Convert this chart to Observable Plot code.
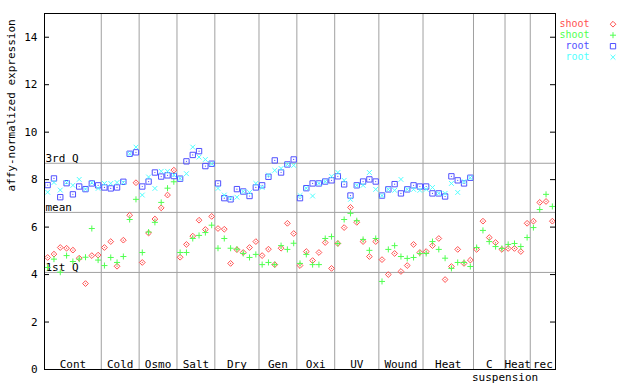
<!DOCTYPE html>
<html>
<head>
<meta charset="utf-8">
<script src="https://cdn.jsdelivr.net/npm/d3@7"></script>
<script src="https://cdn.jsdelivr.net/npm/@observablehq/plot@0.6"></script>
<style>
  html, body { margin: 0; padding: 0; background: #fff; }
  #chart { width: 640px; height: 384px; }
</style>
</head>
<body>
<div id="chart"></div>
<script>
// ---- data ----
const groups = ["Cont","Cold","Osmo","Salt","Dry","Gen","Oxi","UV","Wound","Heat","C","Heat","rec"];
const groupSizes = [9,6,6,6,7,6,6,7,7,8,5,4,4];
const subLabel = "suspension";
const yTicks = [0,2,4,6,8,10,12,14];
const refLines = [
  {name: "3rd Q", value: 8.69},
  {name: "mean", value: 6.62},
  {name: "1st Q", value: 4.09}
];
const seriesNames = ["shoot","shoot","root","root"];
const seriesColors = ["#ff5050","#50ff50","#5050ff","#50ffff"];

const shootA = [4.72,4.86,5.14,5.11,5.03,4.69,3.62,4.80,4.82,5.14,5.39,4.35,5.45,6.50,7.87,4.51,5.75,6.34,6.81,7.35,8.40,4.73,5.27,5.62,6.29,5.90,6.45,5.94,5.91,4.47,5.05,4.93,5.14,5.39,4.80,5.07,4.42,5.11,6.16,5.73,4.38,4.97,4.59,4.93,5.35,4.26,5.31,5.98,6.83,6.20,5.39,4.76,5.39,4.63,4.00,4.89,4.13,4.38,5.27,4.93,4.97,5.22,5.52,3.79,4.34,5.06,4.47,4.61,5.06,6.25,5.56,5.35,5.06,5.10,5.10,4.97,6.16,6.25,7.04,7.08,6.25];
const shootB = [4.30,4.65,4.10,4.80,4.55,4.65,4.73,5.94,4.61,4.38,4.72,4.51,4.76,6.32,7.17,4.93,5.79,6.20,7.04,7.64,7.91,4.93,4.93,5.52,5.65,5.77,6.08,5.11,5.52,5.11,5.07,4.89,4.72,4.85,4.42,4.51,4.42,5.22,5.06,5.32,4.47,4.85,4.42,4.42,5.52,5.60,5.31,6.32,6.58,6.27,5.48,5.02,5.52,3.71,5.06,5.22,4.76,4.68,4.72,4.89,4.89,5.39,5.06,4.69,4.26,4.51,4.51,4.34,5.14,5.86,5.39,5.18,5.10,5.27,5.31,5.18,5.56,5.98,6.74,7.38,6.87];
const rootA = [7.77,8.05,7.26,7.85,7.38,7.71,7.60,7.84,7.76,7.67,7.63,7.67,7.91,9.09,9.15,7.71,7.92,8.30,8.13,8.18,8.15,8.04,8.77,9.04,9.20,8.57,8.67,7.84,7.22,7.17,7.60,7.50,7.31,7.67,7.76,8.12,8.81,8.30,8.64,8.85,7.22,7.64,7.84,7.84,7.92,7.97,8.14,7.80,7.33,7.76,7.92,8.01,7.92,7.33,7.59,7.81,7.42,7.59,7.76,7.71,7.71,7.42,7.42,7.29,8.14,7.97,7.84,8.08];
const rootB = [7.47,7.88,7.56,7.88,7.76,8.01,7.60,7.87,7.63,7.84,7.84,7.88,7.88,9.09,9.37,7.35,8.11,7.63,8.35,8.35,8.20,8.05,8.25,9.37,8.95,8.85,8.67,7.63,7.35,7.22,7.26,7.50,7.46,7.84,7.67,8.19,8.39,8.47,8.64,8.60,7.33,7.64,7.31,7.84,7.92,8.14,8.30,7.97,7.17,7.76,7.76,8.30,7.59,7.33,7.59,7.55,8.01,7.59,7.59,7.55,7.59,7.67,7.42,7.42,7.84,7.46,7.92,8.08];

// ---- derived tables ----
const nSamples = d3.sum(groupSizes);
const ends = Array.from(d3.cumsum(groupSizes));
const starts = ends.map((e, i) => e - groupSizes[i]);
const dividers = ends.slice(0, -1);
const groupTable = groups.map((g, i) => ({label: g, center: (starts[i] + ends[i]) / 2}));
const toPts = arr => arr.map((v, i) => ({x: i + 0.5, y: v}));
const seriesData = [shootA, shootB, rootA, rootB].map(toPts);
const symbols = ["diamond2", "plus", "square2", "times"];
const radii = [2.6, 2.1, 3.4, 2.3];
const grey = "#a0a0a0";

const legendMarks = seriesNames.flatMap((name, k) => [
  Plot.text([name], {text: d => d, frameAnchor: "top-right", dx: 34, dy: 10.7 + 11 * k,
    textAnchor: "end", lineAnchor: "middle", fill: seriesColors[k], fontSize: 10}),
  Plot.dot([name], {frameAnchor: "top-right", dx: 57.5, dy: 10.7 + 11 * k,
    symbol: symbols[k], r: radii[k], stroke: seriesColors[k], strokeWidth: 1})
]);

const chart = Plot.plot({
  width: 640,
  height: 384,
  marginLeft: 44,
  marginRight: 85,
  marginTop: 13,
  marginBottom: 15,
  style: {fontFamily: "'DejaVu Sans Mono', monospace", fontSize: "11px", background: "#fff", color: "#000"},
  x: {domain: [0, nSamples], axis: null},
  y: {domain: [0, 15], axis: null},
  marks: [
    Plot.ruleX(dividers, {x: d => d, stroke: grey, strokeWidth: 1}),
    Plot.ruleY(refLines, {y: "value", stroke: grey, strokeWidth: 1}),
    Plot.text(refLines, {y: "value", text: "name", frameAnchor: "left", dx: 1, dy: -1.5,
      textAnchor: "start", lineAnchor: "bottom", fill: "#000"}),
    Plot.tickY(yTicks, {y: d => d, insetRight: 506, stroke: "#000"}),
    Plot.tickY(yTicks, {y: d => d, insetLeft: 506, stroke: "#000"}),
    Plot.axisY(yTicks, {tickSize: 0, tickPadding: 7, label: null, fill: "#000"}),
    Plot.text(groupTable, {x: "center", text: "label", frameAnchor: "bottom", dy: -5,
      lineAnchor: "middle", fill: "#000"}),
    Plot.text([subLabel], {x: () => ends[10], text: d => d, frameAnchor: "bottom", dy: 8,
      lineAnchor: "middle", fill: "#000"}),
    Plot.text(["affy-normalized expression"], {text: d => d, frameAnchor: "left", dx: -33,
      rotate: -90, lineAnchor: "middle", fill: "#000"}),
    ...seriesData.flatMap((data, k) => {
      const m = [Plot.dot(data, {x: "x", y: "y", symbol: symbols[k], r: radii[k],
        stroke: seriesColors[k], strokeWidth: 1})];
      if (k === 0 || k === 2) m.push(Plot.dot(data, {x: "x", y: "y", r: 0.6, fill: seriesColors[k]}));
      return m;
    }),
    Plot.frame({stroke: "#000"}),
    ...legendMarks
  ]
});
document.getElementById("chart").appendChild(chart);
</script>
</body>
</html>
